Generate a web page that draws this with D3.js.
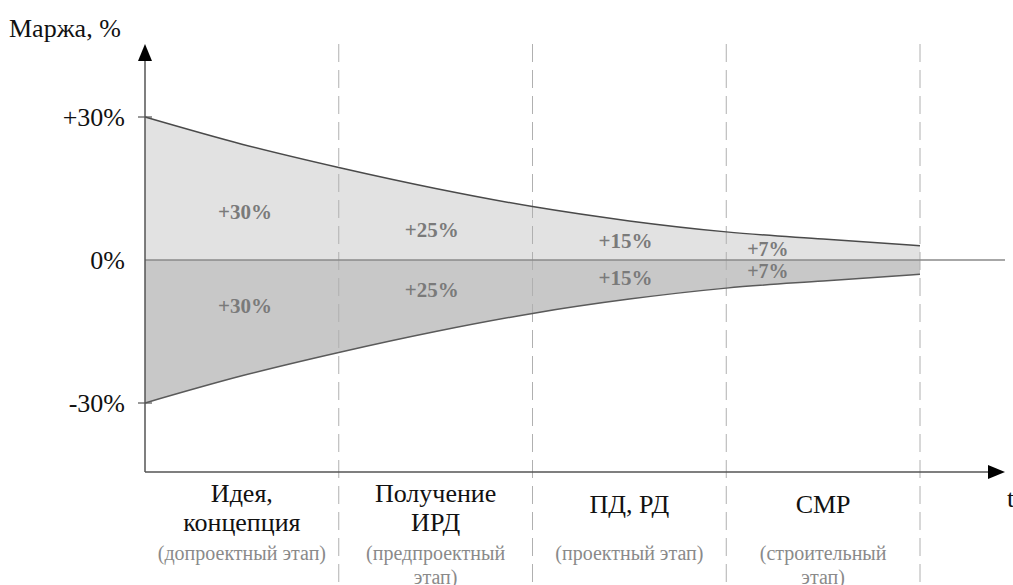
<!DOCTYPE html>
<html><head><meta charset="utf-8">
<script src="https://cdn.jsdelivr.net/npm/d3@7"></script>
<style>html,body{margin:0;padding:0;background:#fff;}</style>
</head><body>
<svg id="chart" width="1013" height="585"></svg>
<script>
// ---- data ----
const stageTitles = [["Идея,", "концепция"], ["Получение", "ИРД"], ["ПД, РД"], ["СМР"]];
const stageNotes = [["(допроектный этап)"], ["(предпроектный", "этап)"], ["(проектный этап)"], ["(строительный", "этап)"]];
const curveT = [0, 0.5, 1, 1.5, 2, 2.5, 3, 3.5, 4];
const curveMargin = [30, 24.3, 19.4, 15.0, 11.2, 8.2, 5.9, 4.4, 3.0];
const stageMarginLabels = ["+30%", "+25%", "+15%", "+7%"];
const yTickValues = [30, 0, -30];
const yTickLabels = ["+30%", "0%", "-30%"];
const yAxisTitle = "Маржа, %";
const xAxisTitle = "t";

// ---- layout ----
const FONT = "'Liberation Serif', 'DejaVu Serif', serif";
const svg = d3.select("#chart").attr("font-family", FONT);
const x = d3.scaleLinear().domain([0, 4]).range([145, 920]);
const y = d3.scaleLinear().domain([-30, 30]).range([403, 117]);
const axisY = 472, axisTop = 44, xEnd = 1005;
const labelT = [0.516, 1.48, 2.48, 3.215];
const upperOff = [-41, -23, -12, -4];
const lowerOff = [53, 37, 25, 18];

const pts = curveT.map((t, i) => ({t, v: curveMargin[i]}));

// areas
const upperArea = d3.area().x(d => x(d.t)).y0(y(0)).y1(d => y(d.v)).curve(d3.curveMonotoneX);
const lowerArea = d3.area().x(d => x(d.t)).y0(y(0)).y1(d => y(-d.v)).curve(d3.curveMonotoneX);
svg.append("path").datum(pts).attr("d", upperArea).attr("fill", "#e2e2e2");
svg.append("path").datum(pts).attr("d", lowerArea).attr("fill", "#c8c8c8");

// dashed stage separators
svg.append("g").selectAll("line").data([1, 2, 3, 4]).join("line")
  .attr("x1", d => x(d)).attr("x2", d => x(d))
  .attr("y1", axisTop).attr("y2", 585)
  .attr("stroke", "#b0b0b0").attr("stroke-width", 1).attr("stroke-dasharray", "18,8");

// curve outlines
const upperLine = d3.line().x(d => x(d.t)).y(d => y(d.v)).curve(d3.curveMonotoneX);
const lowerLine = d3.line().x(d => x(d.t)).y(d => y(-d.v)).curve(d3.curveMonotoneX);
svg.append("path").datum(pts).attr("d", upperLine).attr("fill", "none").attr("stroke", "#4a4a4a").attr("stroke-width", 1.5);
svg.append("path").datum(pts).attr("d", lowerLine).attr("fill", "none").attr("stroke", "#5a5a5a").attr("stroke-width", 1.5);

// zero line
svg.append("line").attr("x1", x(0)).attr("x2", xEnd).attr("y1", y(0)).attr("y2", y(0))
  .attr("stroke", "#8a8a8a").attr("stroke-width", 1.5);

// axes
svg.append("line").attr("x1", x(0)).attr("x2", x(0)).attr("y1", axisY).attr("y2", axisTop + 14)
  .attr("stroke", "#555").attr("stroke-width", 1.5);
svg.append("path").attr("d", `M${x(0)},${axisTop} L${x(0) - 7},${axisTop + 17} L${x(0) + 7},${axisTop + 17} Z`).attr("fill", "#000");
svg.append("line").attr("x1", x(0)).attr("x2", xEnd - 14).attr("y1", axisY).attr("y2", axisY)
  .attr("stroke", "#555").attr("stroke-width", 1.5);
svg.append("path").attr("d", `M${xEnd},${axisY} L${xEnd - 17},${axisY - 7} L${xEnd - 17},${axisY + 7} Z`).attr("fill", "#000");

// y ticks
const ticksG = svg.append("g");
yTickValues.forEach((v, i) => {
  if (v !== 0) ticksG.append("line").attr("x1", x(0) - 7).attr("x2", x(0) + 7).attr("y1", y(v)).attr("y2", y(v))
    .attr("stroke", "#555").attr("stroke-width", 1.2);
  ticksG.append("text").attr("x", 125).attr("y", y(v)).attr("dy", "0.35em")
    .attr("text-anchor", "end").attr("font-size", 26).attr("fill", "#111").text(yTickLabels[i]);
});
svg.append("text").attr("x", 9).attr("y", 37).attr("font-size", 26).attr("fill", "#111").text(yAxisTitle);
svg.append("text").attr("x", 1007).attr("y", 507).attr("font-size", 26).attr("fill", "#111").text(xAxisTitle);

// inner labels
stageMarginLabels.forEach((lab, i) => {
  [upperOff[i], lowerOff[i]].forEach(off => {
    svg.append("text").attr("x", x(labelT[i])).attr("y", y(0) + off)
      .attr("text-anchor", "middle").attr("font-size", i === 3 ? 20 : 21).attr("font-weight", "bold")
      .attr("fill", "#7a7a7a").text(lab);
  });
});

// stage labels
stageTitles.forEach((lines, i) => {
  const cx = x(i + 0.5);
  const base = lines.length === 2 ? [502, 531] : [513];
  lines.forEach((ln, j) => {
    svg.append("text").attr("x", cx).attr("y", base[j]).attr("text-anchor", "middle")
      .attr("font-size", 26).attr("fill", "#111").text(ln);
  });
  stageNotes[i].forEach((ln, j) => {
    svg.append("text").attr("x", cx).attr("y", 560 + j * 24).attr("text-anchor", "middle")
      .attr("font-size", 20).attr("fill", "#8a8a8a").text(ln);
  });
});
</script>
</body></html>
